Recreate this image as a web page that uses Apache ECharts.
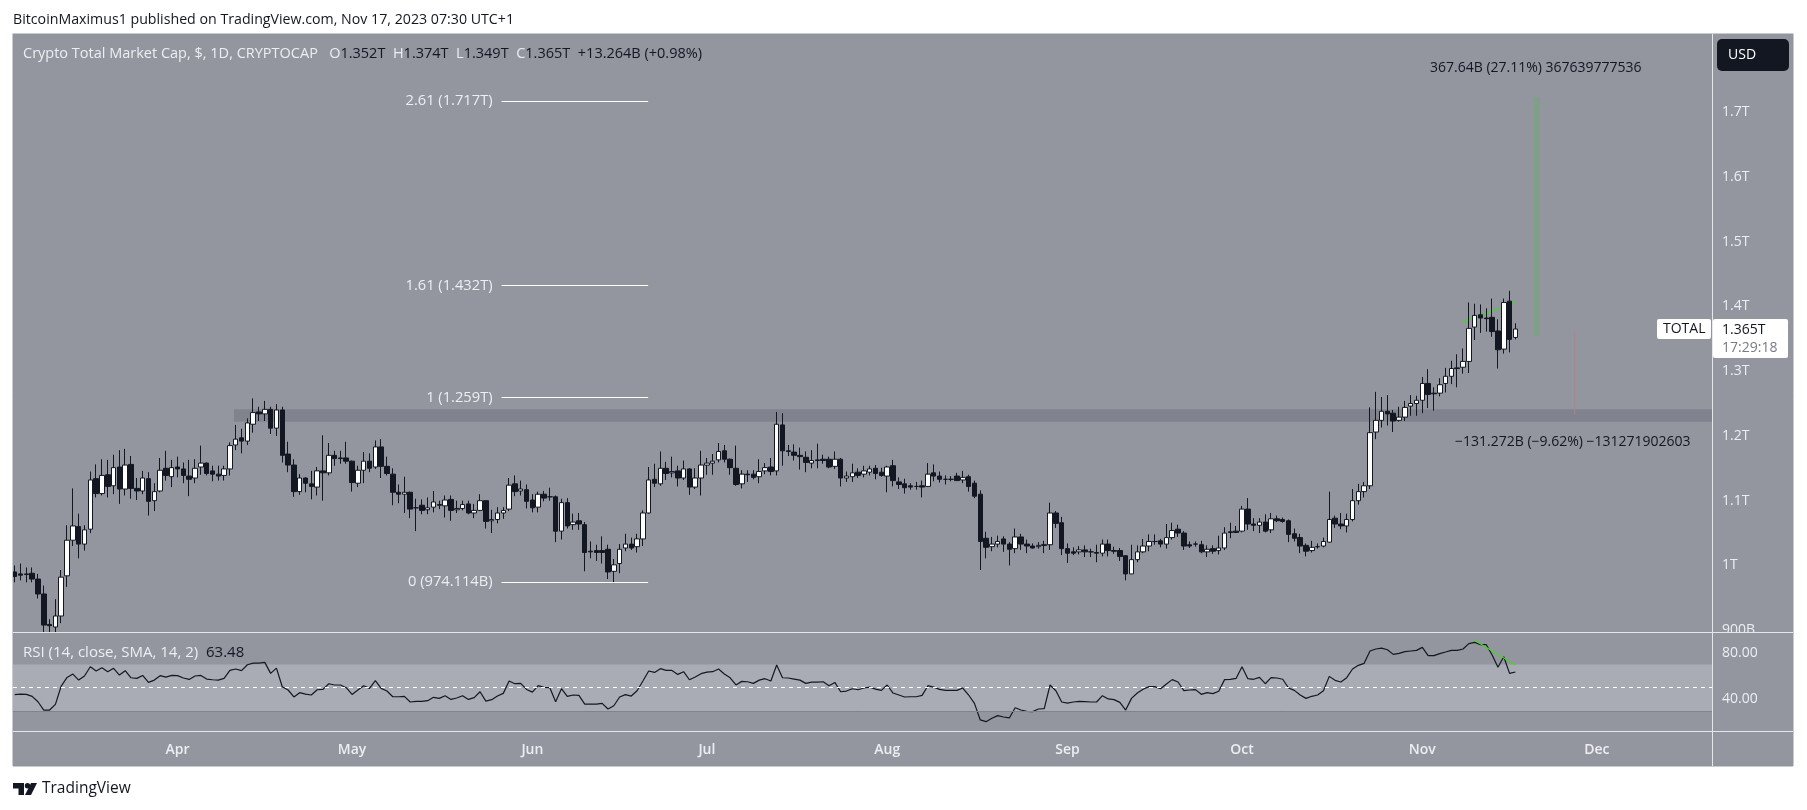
<!DOCTYPE html>
<html><head><meta charset="utf-8"><style>html,body{margin:0;padding:0;background:#fff}#c{width:1807px;height:810px}</style>
<script src="https://cdn.jsdelivr.net/npm/echarts@6/dist/echarts.min.js"></script></head><body><div id="c"></div><script>
// all prices in $ billions; x = trading day number, day 0 = 2023-03-04
const opens=[990,987,987,988,979,956,909,905,922,984,1039,1060,1033,1056,1134,1111,1140,1123,1152,1118,1156,1119,1115,1134,1100,1115,1150,1137,1152,1149,1138,1135,1152,1158,1146,1141,1139,1149,1186,1197,1192,1218,1237,1234,1241,1212,1240,1172,1155,1114,1135,1126,1121,1146,1143,1170,1166,1166,1161,1127,1147,1161,1152,1183,1153,1141,1113,1110,1113,1089,1093,1086,1090,1094,1092,1102,1086,1088,1095,1081,1085,1100,1069,1071,1081,1087,1126,1115,1117,1101,1090,1110,1106,1106,1053,1097,1063,1069,1063,1022,1023,1023,1025,991,1003,1027,1033,1029,1041,1081,1133,1126,1150,1143,1146,1135,1149,1121,1135,1155,1158,1163,1177,1164,1150,1126,1141,1141,1137,1146,1152,1146,1217,1177,1175,1170,1167,1158,1163,1164,1164,1153,1164,1135,1137,1144,1141,1144,1150,1144,1138,1154,1129,1126,1123,1122,1123,1122,1143,1138,1133,1133,1138,1132,1137,1127,1110,1042,1029,1033,1041,1033,1026,1044,1033,1030,1029,1032,1032,1081,1066,1026,1021,1021,1024,1021,1020,1019,1033,1023,1023,1015,987,1009,1021,1030,1037,1038,1033,1043,1056,1050,1032,1033,1032,1021,1026,1023,1027,1052,1053,1053,1087,1064,1062,1067,1055,1072,1071,1069,1049,1043,1031,1023,1029,1030,1036,1073,1064,1061,1071,1100,1114,1123,1206,1224,1238,1235,1224,1229,1246,1250,1255,1281,1266,1266,1281,1292,1305,1306,1315,1368,1387,1382,1383,1362,1334,1408,1352];
const closes=[983,985,986,979,956,908,907,922,982,1039,1061,1033,1055,1132,1111,1139,1122,1151,1118,1155,1119,1115,1135,1099,1114,1147,1139,1151,1149,1139,1133,1150,1158,1142,1141,1138,1149,1185,1195,1192,1220,1236,1234,1241,1212,1240,1170,1155,1114,1135,1127,1122,1146,1143,1170,1165,1165,1161,1128,1147,1161,1150,1183,1153,1142,1113,1110,1113,1087,1089,1085,1089,1098,1093,1101,1085,1088,1094,1081,1085,1100,1068,1071,1081,1085,1124,1114,1118,1099,1089,1110,1104,1106,1053,1097,1061,1067,1064,1020,1021,1020,1020,990,1001,1025,1033,1027,1041,1081,1132,1127,1150,1142,1145,1135,1149,1121,1135,1155,1158,1161,1176,1164,1151,1125,1141,1140,1136,1145,1151,1145,1218,1177,1176,1170,1168,1159,1162,1162,1162,1152,1164,1135,1138,1143,1139,1146,1149,1142,1139,1152,1131,1125,1120,1121,1122,1121,1141,1138,1133,1133,1133,1131,1136,1122,1107,1037,1028,1033,1037,1033,1025,1044,1033,1030,1027,1031,1031,1081,1065,1026,1019,1019,1024,1021,1021,1019,1033,1023,1022,1014,987,1009,1021,1030,1037,1037,1033,1043,1054,1050,1030,1030,1033,1021,1025,1022,1027,1050,1051,1051,1087,1064,1062,1067,1053,1072,1069,1068,1048,1042,1030,1022,1028,1029,1037,1071,1064,1061,1071,1100,1114,1123,1205,1224,1238,1234,1223,1229,1244,1250,1255,1281,1264,1265,1279,1292,1304,1304,1315,1366,1386,1382,1381,1361,1333,1406,1349,1365];
const highs=[1000,1003,997,997,987,969,917,948,993,1062,1119,1080,1062,1145,1156,1164,1163,1171,1178,1180,1169,1135,1146,1144,1127,1166,1177,1163,1168,1159,1163,1164,1185,1159,1154,1154,1154,1190,1217,1211,1227,1258,1245,1254,1245,1249,1245,1191,1164,1141,1136,1146,1152,1201,1189,1177,1177,1191,1162,1154,1175,1173,1193,1195,1168,1150,1125,1137,1114,1103,1102,1105,1115,1100,1108,1108,1100,1100,1100,1095,1110,1100,1086,1090,1090,1135,1139,1131,1125,1110,1114,1115,1120,1108,1103,1104,1080,1081,1067,1037,1032,1045,1032,1010,1033,1049,1043,1049,1085,1152,1157,1176,1160,1168,1154,1162,1150,1150,1177,1166,1172,1189,1186,1165,1185,1147,1147,1147,1164,1158,1166,1237,1235,1186,1187,1182,1176,1178,1188,1171,1168,1176,1166,1145,1157,1150,1154,1154,1155,1151,1154,1163,1136,1134,1127,1129,1131,1158,1156,1145,1139,1138,1143,1146,1140,1131,1116,1052,1044,1046,1045,1036,1057,1049,1040,1034,1036,1038,1097,1084,1075,1034,1028,1030,1031,1026,1032,1040,1040,1029,1027,1016,1032,1031,1041,1048,1048,1041,1064,1066,1063,1053,1037,1037,1038,1031,1031,1046,1059,1066,1061,1092,1104,1073,1073,1079,1081,1077,1074,1071,1057,1049,1034,1038,1034,1043,1114,1077,1081,1080,1118,1126,1129,1244,1268,1260,1263,1240,1245,1254,1263,1262,1291,1303,1275,1289,1305,1316,1326,1335,1406,1404,1403,1397,1412,1380,1412,1424,1374];
const lows=[974,977,974,974,949,897,897,897,911,967,1030,1011,1023,1050,1105,1108,1105,1110,1095,1108,1103,1101,1110,1077,1084,1113,1131,1121,1136,1127,1107,1127,1140,1139,1130,1131,1131,1139,1178,1173,1186,1205,1223,1223,1203,1200,1159,1144,1106,1109,1113,1102,1108,1100,1139,1154,1157,1157,1114,1121,1127,1144,1149,1135,1139,1093,1096,1081,1073,1053,1079,1079,1082,1087,1074,1069,1081,1085,1079,1073,1084,1057,1050,1065,1072,1084,1107,1108,1088,1082,1082,1099,1100,1036,1040,1057,1055,1055,991,1011,1007,1003,979,974,988,1022,1024,1020,1030,1080,1121,1123,1132,1136,1122,1132,1109,1118,1108,1140,1140,1159,1159,1140,1123,1119,1129,1133,1127,1141,1139,1139,1154,1169,1162,1148,1144,1150,1150,1157,1150,1149,1122,1129,1129,1135,1136,1139,1133,1137,1113,1122,1118,1111,1117,1117,1105,1121,1130,1128,1125,1130,1131,1127,1114,1104,993,1011,1022,1028,1021,1000,1019,1024,1019,1026,1026,1019,1024,1058,1016,1004,1016,1017,1013,1013,1005,1014,1014,1018,1007,977,987,1005,1019,1022,1032,1028,1026,1040,1044,1024,1027,1029,1019,1013,1018,1017,1024,1042,1050,1051,1055,1053,1050,1051,1050,1067,1066,1036,1037,1019,1014,1020,1026,1028,1035,1058,1056,1051,1068,1094,1105,1118,1195,1213,1216,1206,1222,1223,1231,1231,1235,1243,1239,1261,1267,1280,1275,1296,1297,1348,1359,1361,1353,1304,1327,1329,1349];
const rsi=[44.0,44.5,44.2,42.5,37.9,30.8,30.8,35.7,51.4,58.8,61.7,56.5,60.0,68.0,64.3,67.1,63.7,66.6,60.8,64.6,58.5,58.0,60.5,54.5,56.5,60.3,59.1,60.5,60.3,58.3,57.1,60.0,60.5,57.4,56.8,56.5,58.0,64.8,66.0,64.6,69.7,71.1,71.1,71.7,62.3,66.8,50.8,48.0,42.0,45.7,44.5,43.7,48.2,48.5,53.4,52.3,52.3,50.0,44.2,48.0,51.7,49.4,56.0,49.4,47.1,42.2,42.2,42.5,37.7,38.2,38.2,38.8,41.7,40.8,43.1,39.9,41.1,43.1,39.9,41.4,46.5,38.5,39.7,42.8,45.1,55.7,
53.4,53.7,48.5,46.2,51.7,50.2,50.0,37.9,49.1,42.5,43.7,43.4,35.9,35.9,35.9,36.5,31.7,34.5,42.0,44.0,42.8,47.4,55.7,64.3,63.1,66.3,64.8,64.8,61.4,63.7,56.8,59.1,62.0,63.4,63.7,66.0,61.7,58.5,52.3,55.4,55.1,53.7,56.5,57.7,55.7,69.4,58.5,58.3,57.4,56.5,53.7,54.8,54.8,55.1,51.7,54.5,46.5,47.1,49.1,48.2,49.7,50.5,48.8,47.7,52.3,45.4,43.7,42.0,42.2,42.2,43.4,51.7,50.5,48.5,47.7,47.7,47.7,49.7,43.7,36.5,
22.3,20.8,23.7,26.0,24.8,24.0,32.8,30.8,29.7,29.4,31.7,32.0,52.3,47.4,37.7,36.8,37.7,38.3,38.0,37.7,37.7,43.1,40.3,39.7,37.4,30.8,40.8,45.4,48.6,50.9,50.9,49.1,53.2,56.9,54.9,47.4,48.0,48.3,44.3,45.7,44.9,46.9,56.9,57.2,58.0,68.0,57.7,57.2,58.9,53.4,58.6,58.3,57.2,49.7,47.7,43.7,40.8,42.6,43.7,47.4,59.7,56.3,54.9,58.6,66.0,69.2,70.9,81.5,83.2,84.0,82.6,78.6,79.5,80.9,81.5,82.0,84.6,77.5,77.5,79.2,80.6,82.0,82.0,83.2,87.8,88.9,86.9,86.9,78.0,67.5,76.6,62.3,63.48];
const monthDays=[28,58,89,119,150,181,211,242,272];
const monthLabels=['Apr','May','Jun','Jul','Aug','Sep','Oct','Nov','Dec'];
const priceTicks=[900,1000,1100,1200,1300,1400,1500,1600,1700];
const priceTickLabels=['900B','1T','1.1T','1.2T','1.3T','1.4T','1.5T','1.6T','1.7T'];
const rsiTicks=[40,80];
const rsiTickLabels=['40.00','80.00'];
const fibNames=['2.61 (1.717T)','1.61 (1.432T)','1 (1.259T)','0 (974.114B)'];
const fibPrices=[1717,1432,1259,974];
const fibDays=[83.7,108.9];
const zoneDays=[37.7,291.8];
const zonePrices=[1241,1222];
const upMeasureDay=261.7, upMeasure=[1354,1722];
const downMeasureDay=268.2, downMeasure=[1364,1233];
const priceTrendDays=[249,258.1], priceTrend=[1376,1406];
const rsiTrendDays=[250.9,258], rsiTrend=[90.9,69.5];

const FONT='"Open Sans"', DARK='#131722', PANEL='#93969f', LIGHT='#eceef2';
const txt=(x,y,text,o)=>({type:'text',z:120,x,y,silent:true,style:Object.assign({text,font:'14px '+FONT,fill:DARK,verticalAlign:'middle'},o||{})});
const rect=(x,y,w,h,fill,z,r)=>({type:'rect',z,silent:true,shape:{x,y,width:w,height:h,r:r||0},style:{fill}});
const line=(x1,y1,x2,y2,stroke)=>({type:'line',z:110,silent:true,shape:{x1,y1,x2,y2},style:{stroke,lineWidth:1}});

const chart=echarts.init(document.getElementById('c'),null,{renderer:'canvas'});
const xMin=-0.292,xMax=291.8;
const lineS=(xi,days,vals,color,width,z)=>({type:'line',xAxisIndex:xi,yAxisIndex:xi,data:days.map((d,i)=>[d,vals[i]]),symbol:'none',silent:true,z:z||6,lineStyle:{color,width,cap:'butt'}});
chart.setOption({
 animation:false,backgroundColor:'#fff',
 grid:[{left:13,top:34,width:1699,height:598},{left:13,top:632,width:1699,height:99}],
 xAxis:[
  {type:'value',gridIndex:0,min:xMin,max:xMax,axisLine:{show:false},axisTick:{show:false},axisLabel:{show:false},splitLine:{show:false}},
  {type:'value',gridIndex:1,min:xMin,max:xMax,axisLine:{show:false},axisTick:{show:false},splitLine:{show:false},
   axisLabel:{customValues:monthDays,margin:12,color:LIGHT,fontFamily:FONT,fontSize:14,fontWeight:600,formatter:v=>monthLabels[monthDays.indexOf(v)]}}
 ],
 yAxis:[
  {type:'value',gridIndex:0,position:'right',min:897.3,max:1820.4,axisLine:{show:false},axisTick:{show:false},splitLine:{show:false},
   axisLabel:{customValues:priceTicks,margin:10,color:LIGHT,fontFamily:FONT,fontSize:14,formatter:v=>priceTickLabels[priceTicks.indexOf(v)]}},
  {type:'value',gridIndex:1,position:'right',min:12.8,max:97.8,axisLine:{show:false},axisTick:{show:false},splitLine:{show:false},
   axisLabel:{customValues:rsiTicks,margin:10,color:LIGHT,fontFamily:FONT,fontSize:14,formatter:v=>rsiTickLabels[rsiTicks.indexOf(v)]}}
 ],
 series:[
  {type:'candlestick',xAxisIndex:0,yAxisIndex:0,barWidth:5,silent:true,z:4,
   data:opens.map((o,i)=>[i,o,closes[i],lows[i],highs[i]]),
   itemStyle:{color:'#ffffff',color0:DARK,borderColor:DARK,borderColor0:DARK,borderColorDoji:DARK,borderWidth:1},
   markArea:{silent:true,itemStyle:{color:'#80838d'},data:[[{coord:[zoneDays[0],zonePrices[0]]},{coord:[zoneDays[1],zonePrices[1]]}]]},
   markLine:{silent:true,symbol:'none',precision:3,
    lineStyle:{color:'#ffffff',width:1,type:'solid'},
    label:{show:true,position:'start',distance:9,color:LIGHT,fontFamily:FONT,fontSize:14.7,formatter:p=>p.name},
    data:fibNames.map((n,i)=>[{name:n,coord:[fibDays[0],fibPrices[i]]},{coord:[fibDays[1],fibPrices[i]]}])}},
  lineS(0,[upMeasureDay,upMeasureDay],upMeasure,'#7f9f88',6.5,3),
  lineS(0,[downMeasureDay,downMeasureDay],downMeasure,'#b58088',1,3),
  lineS(0,priceTrendDays,priceTrend,'#44d620',1.2,3),
  {type:'line',xAxisIndex:1,yAxisIndex:1,data:rsi.map((r,i)=>[i,r]),symbol:'none',silent:true,z:4,
   lineStyle:{color:DARK,width:1.2},
   markArea:{silent:true,itemStyle:{color:'#a9acb5'},data:[[{yAxis:70},{yAxis:30}]]},
   markLine:{silent:true,symbol:'none',label:{show:false},data:[
     {yAxis:50,lineStyle:{color:'#ffffff',width:1,type:[4,4]}},
     {yAxis:30,lineStyle:{color:'#80838d',width:1,type:'solid'}}]}},
  lineS(1,rsiTrendDays,rsiTrend,'#44d620',1.2,5)
 ],
 graphic:[
  rect(13,34,1780,732,PANEL,-1),
  rect(1713,633,80,9,PANEL,105),
  line(13,33.5,1793,33.5,'#c9cbd3'),line(12.5,33.5,12.5,766,'#c9cbd3'),line(1793.5,33.5,1793.5,766,'#c9cbd3'),line(13,766.5,1793,766.5,'#c9cbd3'),
  line(13,632.5,1793,632.5,'#e6e7ea'),line(13,731.5,1793,731.5,'#e6e7ea'),line(1712.5,34,1712.5,766,'#e6e7ea'),
  txt(13,20,'BitcoinMaximus1 published on TradingView.com, Nov 17, 2023 07:30 UTC+1',{font:'14.2px '+FONT}),
  {type:'text',z:120,x:23,y:54,silent:true,style:{verticalAlign:'middle',font:'14.5px '+FONT,
    text:'{l|Crypto Total Market Cap, $, 1D, CRYPTOCAP   O}{d|1.352T}{l|  H}{d|1.374T}{l|  L}{d|1.349T}{l|  C}{d|1.365T  +13.264B (+0.98%)}',
    rich:{l:{fill:LIGHT,font:'14.5px '+FONT},d:{fill:DARK,font:'14.5px '+FONT}}}},
  {type:'text',z:120,x:23,y:653,silent:true,style:{verticalAlign:'middle',font:'15px '+FONT,
    text:'{l|RSI (14, close, SMA, 14, 2)}{d|  63.48}',rich:{l:{fill:LIGHT,font:'15px '+FONT},d:{fill:DARK,font:'15px '+FONT}}}},
  txt(1430,68,'367.64B (27.11%) 367639777536'),
  txt(1455,442,'\u2212131.272B (\u22129.62%) \u2212131271902603'),
  rect(1717,39,72,32,DARK,115,5),
  txt(1728,55,'USD',{fill:'#ffffff'}),
  rect(1657,319,54,20,'#ffffff',115,2),
  txt(1663,329.5,'TOTAL'),
  rect(1713,319,75,39,'#ffffff',115,2),
  txt(1722,330,'1.365T'),
  txt(1722,348,'17:29:18',{fill:'#787b86'}),
  {type:'polygon',z:120,silent:true,shape:{points:[[13,783],[24,783],[24,795],[18.5,795],[18.5,788.5],[13,788.5]]},style:{fill:DARK}},
  {type:'circle',z:120,silent:true,shape:{cx:27.5,cy:785.8,r:2.7},style:{fill:DARK}},
  {type:'polygon',z:120,silent:true,shape:{points:[[31,783],[37,783],[31,795],[25,795]]},style:{fill:DARK}},
  txt(42,789,'TradingView',{font:'15.5px '+FONT})
 ]
});
</script></body></html>
